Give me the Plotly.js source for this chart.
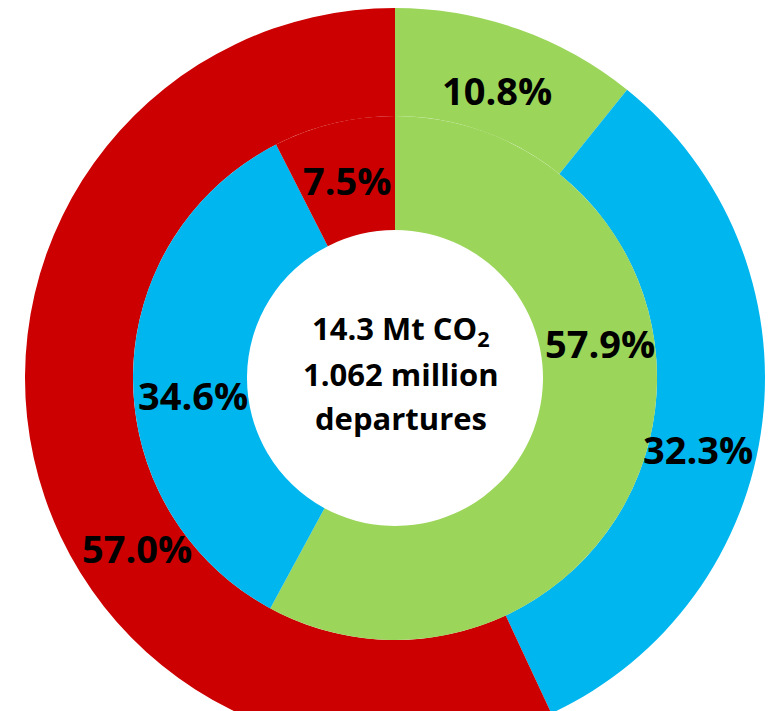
<!DOCTYPE html>
<html><head><meta charset="utf-8">
<script src="https://cdn.plot.ly/plotly-3.0.1.min.js"></script>
<style>
html,body{margin:0;padding:0;background:#fff;overflow:hidden;}
#wrap{width:769px;height:711px;overflow:hidden;}
#chart{width:769px;height:760px;}
</style></head>
<body><div id="wrap"><div id="chart"></div></div>
<script>
// Data
const categories = ['Short-haul', 'Medium-haul', 'Long-haul'];
const co2Share = [10.8, 32.3, 57.0];          // outer ring (% of CO2)
const departureShare = [57.9, 34.6, 7.5];     // inner ring (% of departures)
const centerLines = ['14.3 Mt CO<sub>2</sub>', '1.062 million', 'departures'];

// Styling / layout
const colors = ['#9BD55A', '#00B6EF', '#CC0000'];
const W = 769, H = 760;
const cx = 395, cy = 378, rOuter = 370, rMid = 262, rHole = 148;
const px2x = p => p / W;
const px2y = p => 1 - p / H;

// label positions (pixels) for each ring, in category order
const outerLabelPos = [[497, 90], [698, 449], [137, 548]];
const innerLabelPos = [[600, 343], [193, 395], [347, 180]];
const centerLineY = [330, 374, 418];

const outer = {
  type: 'pie', labels: categories, values: co2Share, sort: false,
  direction: 'clockwise', rotation: 0, hole: rMid / rOuter,
  marker: {colors: colors, line: {width: 0}},
  textinfo: 'none', hoverinfo: 'label+value', showlegend: false,
  domain: {x: [px2x(cx - rOuter), px2x(cx + rOuter)], y: [px2y(cy + rOuter), px2y(cy - rOuter)]}
};
const inner = {
  type: 'pie', labels: categories, values: departureShare, sort: false,
  direction: 'clockwise', rotation: 0, hole: rHole / rMid,
  marker: {colors: colors, line: {width: 0}},
  textinfo: 'none', hoverinfo: 'label+value', showlegend: false,
  domain: {x: [px2x(cx - rMid), px2x(cx + rMid)], y: [px2y(cy + rMid), px2y(cy - rMid)]}
};

const labelFont = {family: 'Open Sans, sans-serif', size: 38, color: '#000', weight: 'bold'};
const annotations = [];
co2Share.forEach((v, i) => annotations.push({
  xref: 'paper', yref: 'paper', x: px2x(outerLabelPos[i][0]), y: px2y(outerLabelPos[i][1]),
  text: '<b>' + v.toFixed(1) + '%</b>', showarrow: false, font: labelFont,
  xanchor: 'center', yanchor: 'middle'
}));
departureShare.forEach((v, i) => annotations.push({
  xref: 'paper', yref: 'paper', x: px2x(innerLabelPos[i][0]), y: px2y(innerLabelPos[i][1]),
  text: '<b>' + v.toFixed(1) + '%</b>', showarrow: false, font: labelFont,
  xanchor: 'center', yanchor: 'middle'
}));
centerLines.forEach((s, i) => annotations.push({
  xref: 'paper', yref: 'paper', x: px2x(401), y: px2y(centerLineY[i]),
  text: '<b>' + s + '</b>', showarrow: false,
  font: {family: 'Open Sans, sans-serif', size: 31, color: '#000'},
  xanchor: 'center', yanchor: 'middle', align: 'center'
}));

Plotly.newPlot('chart', [outer, inner], {
  width: W, height: H, margin: {l: 0, r: 0, t: 0, b: 0},
  paper_bgcolor: '#fff', plot_bgcolor: '#fff', showlegend: false,
  annotations: annotations
}, {displayModeBar: false, staticPlot: true});
</script>
</body></html>
